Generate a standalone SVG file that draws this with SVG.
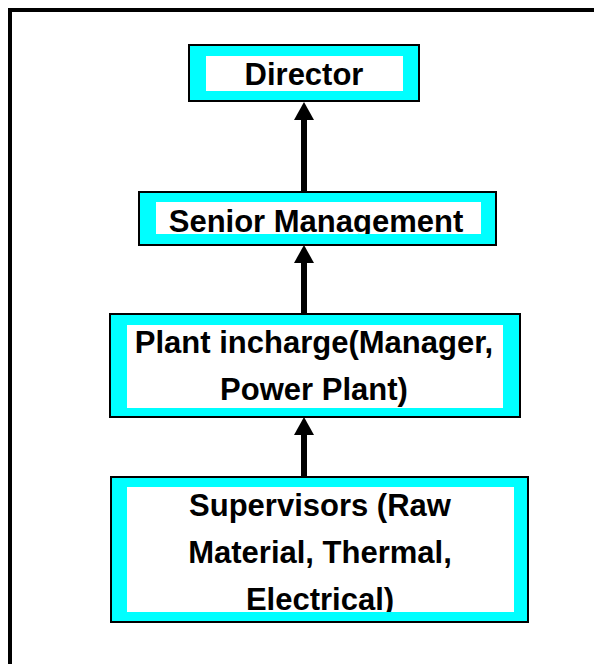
<svg xmlns="http://www.w3.org/2000/svg" width="594" height="664" viewBox="0 0 594 664">
<style>
.outer{fill:#00FFFF;stroke:#000;stroke-width:2}
.inner{fill:#fff}
.lbl{font-family:"Liberation Sans",Arial,sans-serif;font-weight:bold;font-size:31px;fill:#000;text-anchor:middle}
.conn{stroke:#000;stroke-width:6;fill:none}
</style>
<defs>
<marker id="ah" markerUnits="userSpaceOnUse" markerWidth="20" markerHeight="20" viewBox="0 0 20 20" refX="0" refY="10" orient="auto">
<path d="M0,0 L18,10 L0,20 Z" fill="#000"/>
</marker>
<clipPath id="c1"><rect x="206" y="56" width="197" height="35"/></clipPath>
<clipPath id="c2"><rect x="156" y="202" width="325" height="32"/></clipPath>
<clipPath id="c3"><rect x="127" y="325" width="376" height="83"/></clipPath>
<clipPath id="c4"><rect x="127" y="487" width="387" height="125"/></clipPath>
</defs>
<rect x="0" y="0" width="594" height="664" fill="#fff"/>
<rect x="10" y="10" width="620" height="700" fill="none" stroke="#000" stroke-width="4"/>
<g id="connectors">
<line class="conn" x1="304" y1="192" x2="304" y2="120" marker-end="url(#ah)"/>
<line class="conn" x1="304" y1="314" x2="304" y2="263" marker-end="url(#ah)"/>
<line class="conn" x1="304" y1="477" x2="304" y2="435" marker-end="url(#ah)"/>
</g>
<g id="director">
<rect class="outer" x="189" y="45" width="230" height="56"/>
<rect class="inner" x="206" y="56" width="197" height="35"/>
<text class="lbl" x="304" y="85" clip-path="url(#c1)">Director</text>
</g>
<g id="senior">
<rect class="outer" x="139" y="192" width="357" height="53"/>
<rect class="inner" x="156" y="202" width="325" height="32"/>
<text class="lbl" x="316" y="232" clip-path="url(#c2)">Senior Management</text>
</g>
<g id="plant">
<rect class="outer" x="110" y="314" width="410" height="103"/>
<rect class="inner" x="127" y="325" width="376" height="83"/>
<text class="lbl" clip-path="url(#c3)"><tspan x="314" y="353">Plant incharge(Manager,</tspan><tspan x="314" y="400">Power Plant)</tspan></text>
</g>
<g id="supervisors">
<rect class="outer" x="111" y="477" width="417" height="145"/>
<rect class="inner" x="127" y="487" width="387" height="125"/>
<text class="lbl" clip-path="url(#c4)"><tspan x="320" y="516">Supervisors (Raw</tspan><tspan x="320" y="563">Material, Thermal,</tspan><tspan x="320" y="610">Electrical)</tspan></text>
</g>
</svg>
